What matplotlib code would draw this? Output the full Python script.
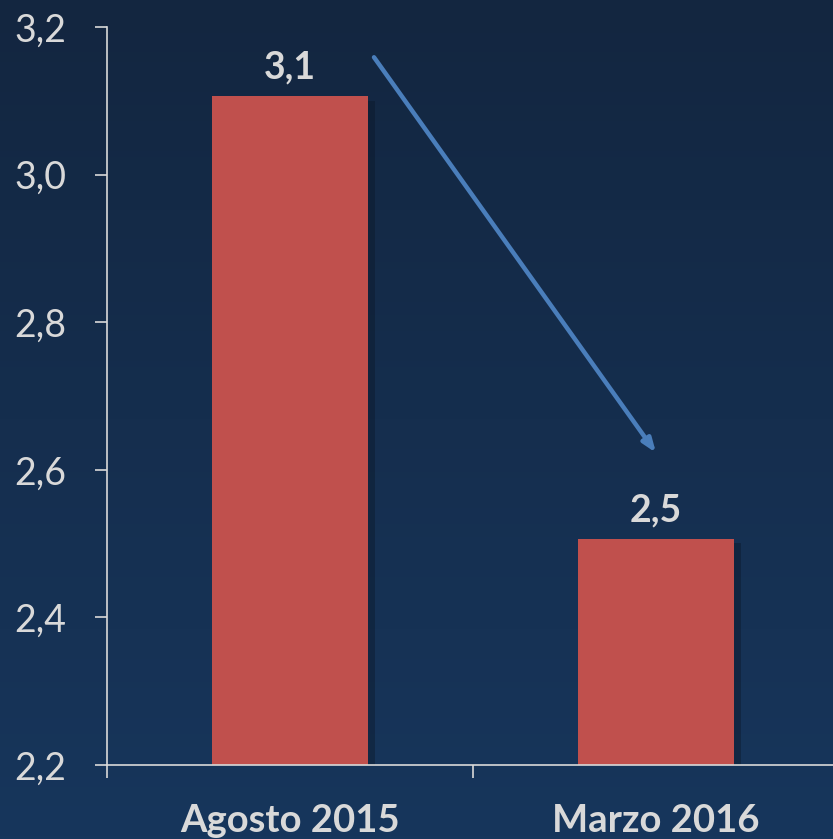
import matplotlib

matplotlib.use("Agg")
import matplotlib.pyplot as plt
import matplotlib.patheffects as pe
from matplotlib.ticker import FixedLocator
import numpy as np

categories = ["Agosto 2015", "Marzo 2016"]
values = [3.106, 2.506]
value_labels = ["3,1", "2,5"]
y_ticks = [2.2, 2.4, 2.6, 2.8, 3.0, 3.2]
y_tick_labels = ["2,2", "2,4", "2,6", "2,8", "3,0", "3,2"]

TEXT = "#D9D9D9"
BAR = "#C0504D"
ARROW = "#4A7EBB"

plt.rcParams["font.family"] = ["Lato", "DejaVu Sans"]

fig = plt.figure(figsize=(8.33, 8.39), dpi=100)

# background gradient
bg = fig.add_axes([0, 0, 1, 1], zorder=0)
top = np.array([0x13, 0x26, 0x40]) / 255
bottom = np.array([0x17, 0x36, 0x5C]) / 255
t = np.linspace(0, 1, 256)[:, None]
grad = top[None, None, :] * (1 - t[..., None]) + bottom[None, None, :] * t[..., None]
grad = np.repeat(grad, 2, axis=1)
bg.imshow(grad, aspect="auto", extent=[0, 1, 0, 1])
bg.axis("off")

ax = fig.add_axes([107 / 833, 1 - 765 / 839, 732 / 833, 738 / 839], zorder=1)
ax.patch.set_alpha(0)

x = np.arange(len(categories))
bars = ax.bar(x, values, width=0.426, color=BAR, zorder=2)
for b in bars:
    b.set_path_effects([pe.SimplePatchShadow(offset=(5, -3), shadow_rgbFace="#0a1626", alpha=0.4), pe.Normal()])

for xi, v, lab in zip(x, values, value_labels):
    ax.text(xi, v + 0.016, lab, ha="center", va="bottom", color=TEXT,
            fontsize=27, fontweight="bold")

ax.annotate("", xy=(1.0, 2.623), xytext=(0.2295, 3.159),
            arrowprops=dict(arrowstyle="-|>,head_length=0.8,head_width=0.3",
                            color=ARROW, lw=3.2, shrinkA=0, shrinkB=0),
            annotation_clip=False)

ax.set_xlim(-0.5, 1.5)
ax.set_ylim(2.2, 3.2)
ax.set_yticks(y_ticks)
ax.set_yticklabels(y_tick_labels)
ax.set_xticks(x)
ax.set_xticklabels(categories)
ax.xaxis.set_minor_locator(FixedLocator([-0.5, 0.5, 1.5]))

ax.tick_params(axis="y", colors=TEXT, labelsize=27, length=9, width=1.2, pad=20)
ax.tick_params(axis="x", which="major", colors=TEXT, labelsize=27.5, length=0, pad=28)
ax.tick_params(axis="x", which="minor", colors=TEXT, length=9, width=1.2)
for lab in ax.get_xticklabels():
    lab.set_fontweight("bold")

for side in ["top", "right"]:
    ax.spines[side].set_visible(False)
for side in ["left", "bottom"]:
    ax.spines[side].set_color(TEXT)
    ax.spines[side].set_linewidth(1.2)
ax.spines["bottom"].set_zorder(3)

fig.savefig("out.png", dpi=100)
plt.close(fig)
